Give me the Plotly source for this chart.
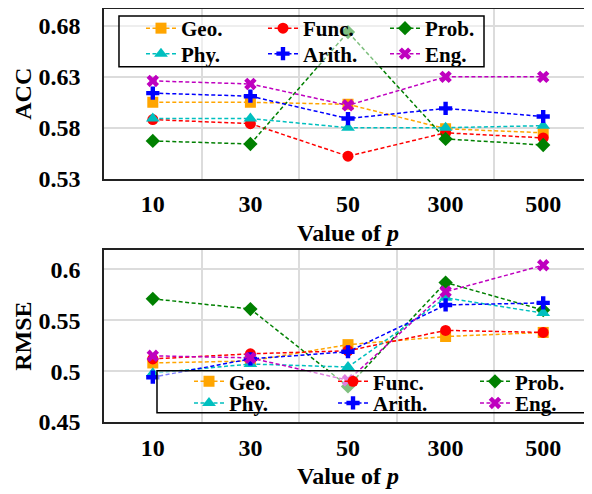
import plotly.graph_objects as go

# ---------------- data ----------------
p_values = ["10", "30", "50", "300", "500"]
series_names = ["Geo.", "Func.", "Prob.", "Phy.", "Arith.", "Eng."]

acc_geo = [0.605, 0.605, 0.603, 0.579, 0.575]
acc_func = [0.588, 0.584, 0.552, 0.575, 0.570]
acc_prob = [0.567, 0.564, 0.674, 0.569, 0.563]
acc_phy = [0.589, 0.589, 0.580, 0.580, 0.582]
acc_arith = [0.614, 0.611, 0.589, 0.599, 0.591]
acc_eng = [0.626, 0.623, 0.602, 0.630, 0.630]

rmse_geo = [0.508, 0.510, 0.526, 0.534, 0.538]
rmse_func = [0.512, 0.517, 0.520, 0.540, 0.538]
rmse_prob = [0.571, 0.561, 0.485, 0.587, 0.560]
rmse_phy = [0.498, 0.507, 0.504, 0.572, 0.557]
rmse_arith = [0.494, 0.512, 0.519, 0.565, 0.567]
rmse_eng = [0.515, 0.513, 0.491, 0.578, 0.604]

acc_ticks = [0.53, 0.58, 0.63, 0.68]
rmse_ticks = [0.45, 0.5, 0.55, 0.6]

# ---------------- styles ----------------
colors = ["#FFA500", "#FF0000", "#008000", "#00BFBF", "#0000FF", "#BF00BF"]
symbols = ["square", "circle", "diamond", "triangle-up", "cross", "x"]
sizes = [11, 11, 11, 12, 11, 11]

# legend layout (paper coordinates): column / row of each entry
top_cols = [0.0758, 0.3258, 0.5758]
top_rows = [0.9517, 0.8889]
bot_cols = [0.1742, 0.4693, 0.7602]
bot_rows = [0.0973, 0.0452]

FONT = "Liberation Serif"

fig = go.Figure()

acc_data = [acc_geo, acc_func, acc_prob, acc_phy, acc_arith, acc_eng]
rmse_data = [rmse_geo, rmse_func, rmse_prob, rmse_phy, rmse_arith, rmse_eng]

legend_common = dict(
    orientation="v", xanchor="left", yanchor="middle",
    bgcolor="rgba(0,0,0,0)", borderwidth=0,
    font=dict(family=FONT, size=21, color="black", weight="bold"),
)
legend_layout = {}

for panel, (data, xa, ya, cols, rows) in enumerate([
        (acc_data, "x", "y", top_cols, top_rows),
        (rmse_data, "x2", "y2", bot_cols, bot_rows)]):
    for i, name in enumerate(series_names):
        k = panel * 6 + i + 1
        lname = "legend" if k == 1 else "legend%d" % k
        legend_layout[lname] = dict(legend_common, x=cols[i % 3], y=rows[i // 3])
        fig.add_trace(go.Scatter(
            x=p_values, y=data[i], name=name, mode="lines+markers",
            xaxis=xa, yaxis=ya, legend=lname,
            line=dict(color=colors[i], width=1.5, dash="4px,2.5px"),
            marker=dict(symbol=symbols[i], size=sizes[i], color=colors[i],
                        line=dict(width=0)),
        ))

tickfont = dict(family=FONT, size=24, color="black", weight="bold")
titlefont = dict(family=FONT, size=24, color="black", weight="bold")

xcommon = dict(
    type="category", range=[-0.5, 4.5], tickson="boundaries",
    showgrid=True, gridcolor="#dcdcdc", gridwidth=1.5,
    showline=True, mirror=True, linecolor="#222222", linewidth=1.5,
    ticks="", tickfont=tickfont, ticklabelstandoff=3, automargin=False,
    title=dict(text="Value of <i>p</i>", font=titlefont, standoff=8),
)
ycommon = dict(
    showgrid=True, gridcolor="#dcdcdc", gridwidth=1.5, zeroline=False,
    showline=True, mirror=True, linecolor="#222222", linewidth=1.5,
    ticks="", tickfont=tickfont, ticklabelstandoff=17, automargin=False,
)

box_style = dict(type="rect", xref="paper", yref="paper", layer="above",
                 line=dict(color="black", width=1.5),
                 fillcolor="rgba(255,255,255,0.5)")

fig.update_layout(
    width=584, height=486,
    margin=dict(l=96, r=0, t=0, b=72),
    paper_bgcolor="white", plot_bgcolor="white",
    showlegend=True,
    xaxis=dict(xcommon, domain=[0, 1], anchor="y"),
    yaxis=dict(ycommon, domain=[0.5894, 1], anchor="x", range=[0.53, 0.6967],
               tickvals=acc_ticks, ticktext=["%.2f" % v for v in acc_ticks],
               title=dict(text="ACC", font=titlefont, standoff=0)),
    xaxis2=dict(xcommon, domain=[0, 1], anchor="y2"),
    yaxis2=dict(ycommon, domain=[0, 0.4155], anchor="x2", range=[0.45, 0.6186],
                tickvals=rmse_ticks, ticktext=["%g" % v for v in rmse_ticks],
                title=dict(text="RMSE", font=titlefont, standoff=0)),
    shapes=[
        dict(box_style, x0=0.0307, x1=0.7787, y0=0.8599, y1=0.9831),
        dict(box_style, x0=0.1086, x1=0.9857, y0=0.0225, y1=0.1239),
    ],
    **legend_layout,
)

fig.write_html("out.html")
